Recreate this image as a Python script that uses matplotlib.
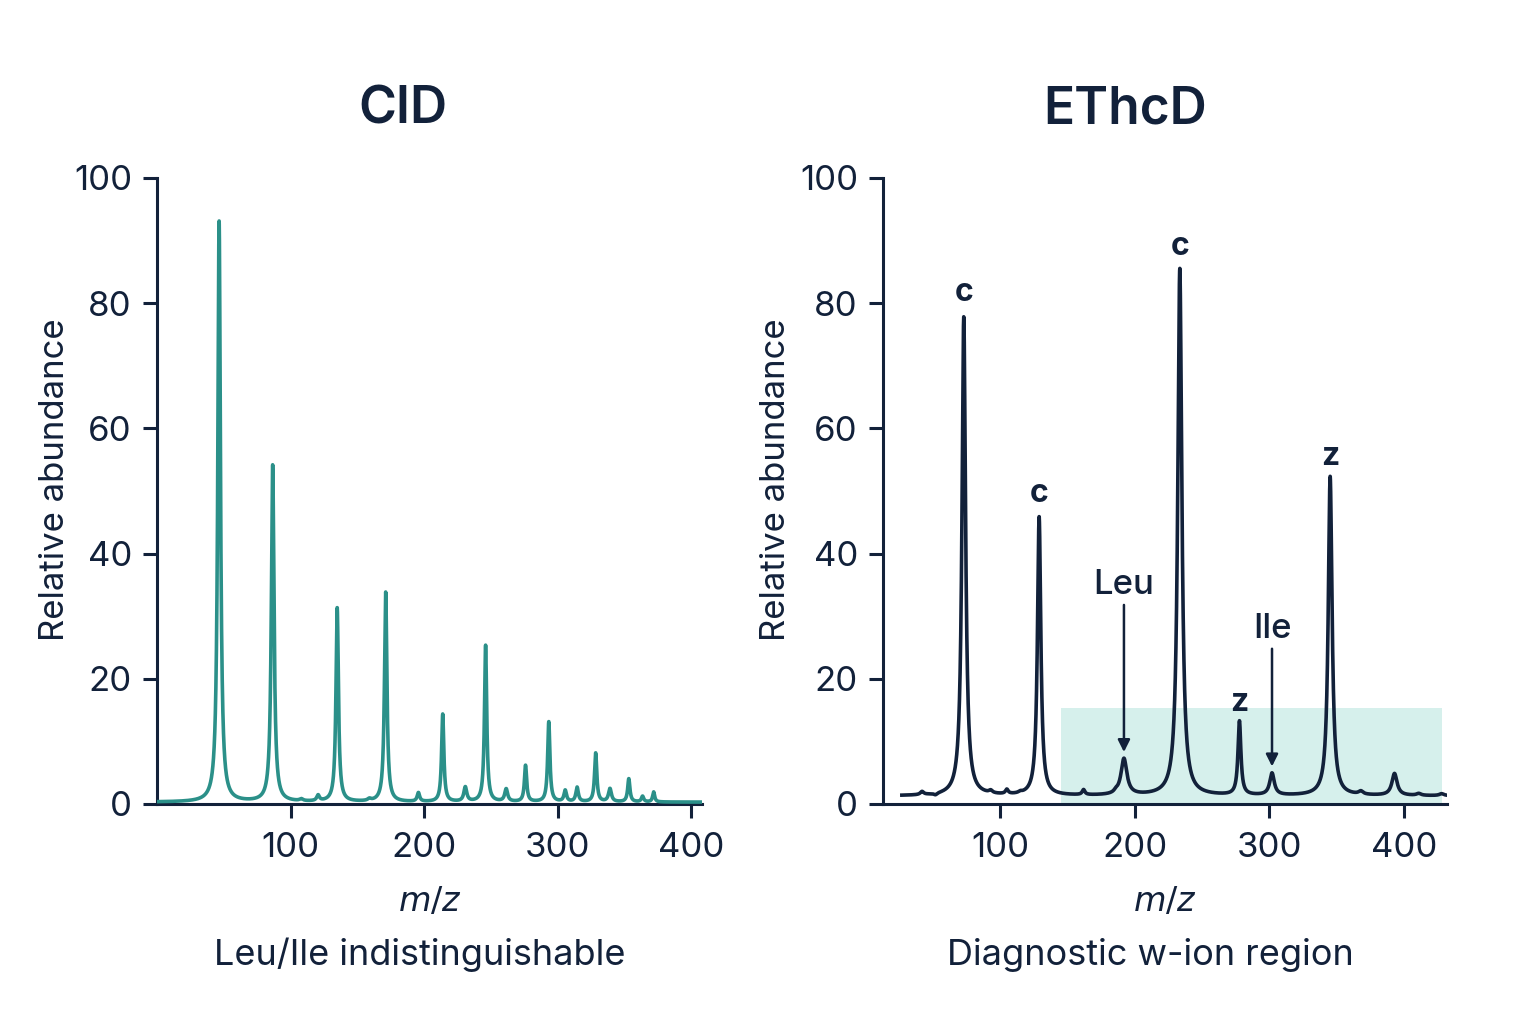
import numpy as np
import matplotlib
matplotlib.use("Agg")
import matplotlib.pyplot as plt
from matplotlib.patches import Rectangle

plt.rcParams['font.family'] = ['Inter', 'DejaVu Sans']

# ---------------- data ----------------
# CID spectrum: peak list (m/z, relative abundance, half width)
cid_mz = [46.5, 86.6, 108.0, 120.6, 134.9, 159.0, 171.2, 195.7, 213.9, 230.8, 246.0, 261.4,
          275.9, 293.3, 305.6, 314.5, 328.4, 339.1, 353.2, 363.5, 371.8]
cid_int = [92.8, 53.8, 0.3, 0.9, 31.0, 0.3, 33.5, 1.4, 14.0, 2.3, 25.0, 2.0,
           5.8, 12.8, 1.8, 2.3, 7.8, 2.1, 3.7, 0.9, 1.6]
cid_hw = [1.2, 1.2, 1.5, 1.2, 1.1, 1.5, 1.1, 1.1, 1.0, 1.3, 1.0, 1.3,
          1.0, 1.0, 1.1, 1.1, 1.0, 1.3, 1.0, 1.0, 0.9]
cid_baseline = 0.3
cid_range = [0, 408]

# EThcD spectrum: peak list (m/z, relative abundance, half width)
eth_mz = [42, 52, 93, 105, 115, 162, 186, 73.0, 129.0, 192.0, 233.5, 277.8, 302.0,
          345.2, 393.0, 368, 411, 428]
eth_int = [0.5, -0.3, 0.4, 0.7, 0.2, 0.8, 0.3, 76.5, 44.5, 5.8, 84.2, 11.8, 3.5,
           51.0, 3.5, 0.5, 0.3, 0.3]
eth_hw = [1.5, 1.5, 1.5, 1.2, 1.5, 1.2, 1.5, 1.6, 1.5, 2.6, 1.8, 1.3, 2.0,
          1.7, 2.3, 2.0, 2.0, 2.0]
eth_baseline = 1.3
eth_range = [27, 432]

# annotations
ion_labels = ['c', 'c', 'c', 'z', 'z']
ion_mz = [73.0, 129.0, 233.5, 277.8, 345.2]
ion_y = [79.3, 47.1, 86.6, 13.8, 53.1]
diag_labels = ['Leu', 'Ile']
diag_mz = [192.0, 302.0]
diag_text_y = [32.4, 25.4]
diag_arrow_top = [31.8, 24.8]
diag_arrow_tip = [8.3, 6.0]
region_mz = [145.5, 428.0]
region_top = 15.3

xticks = [100, 200, 300, 400]
yticks = [0, 20, 40, 60, 80, 100]

# ---------------- styling ----------------
NAVY = '#12213a'
TEAL = '#2b9089'
SHADE = '#d6f0ec'


def spectrum(x, mz, inten, hw, base):
    y = np.full_like(x, base)
    for m, h, w in zip(mz, inten, hw):
        y += h / (1.0 + ((x - m) / w) ** 2)
    return y


fig = plt.figure(figsize=(15.36, 10.24), dpi=100)
W, H = 1536, 1024
ax1 = fig.add_axes([157 / W, 1 - 804 / H, 545 / W, 626 / H])
ax2 = fig.add_axes([883 / W, 1 - 804 / H, 564 / W, 626 / H])

x1 = np.linspace(cid_range[0], cid_range[1], 6000)
ax1.plot(x1, spectrum(x1, cid_mz, cid_int, cid_hw, cid_baseline), color=TEAL, lw=2.6, zorder=3)
ax1.set_xlim(0, 408)

x2 = np.linspace(eth_range[0], eth_range[1], 6000)
ax2.add_patch(Rectangle((region_mz[0], 0), region_mz[1] - region_mz[0], region_top,
                        facecolor=SHADE, edgecolor='none', zorder=1))
ax2.plot(x2, spectrum(x2, eth_mz, eth_int, eth_hw, eth_baseline), color=NAVY, lw=2.6, zorder=3)
ax2.set_xlim(13, 432)

for lab, m, y in zip(ion_labels, ion_mz, ion_y):
    ax2.text(m, y, lab, ha='center', va='bottom', fontsize=23, fontweight='bold', color=NAVY)
for lab, m, ty, at, tip in zip(diag_labels, diag_mz, diag_text_y, diag_arrow_top, diag_arrow_tip):
    ax2.text(m, ty, lab, ha='center', va='bottom', fontsize=25, color=NAVY, fontweight='medium')
    ax2.annotate('', xy=(m, tip), xytext=(m, at),
                 arrowprops=dict(arrowstyle='-|>', color=NAVY, lw=1.8,
                                 mutation_scale=18, shrinkA=0, shrinkB=0))

for ax, lx in ((ax1, -0.158), (ax2, -0.161)):
    ax.set_ylim(0, 100)
    ax.set_xticks(xticks)
    ax.set_yticks(yticks)
    for s in ('top', 'right'):
        ax.spines[s].set_visible(False)
    for s in ('left', 'bottom'):
        ax.spines[s].set_color(NAVY)
        ax.spines[s].set_linewidth(2.2)
    ax.tick_params(axis='both', colors=NAVY, labelcolor=NAVY, labelsize=25,
                   length=10, width=2.2, direction='out')
    ax.tick_params(axis='x', pad=10)
    ax.tick_params(axis='y', pad=8)
    ax.set_ylabel('Relative abundance', fontsize=25, color=NAVY)
    ax.yaxis.set_label_coords(lx, 0.518)
    ax.set_xlabel('$m/z$', fontsize=24, color=NAVY, labelpad=16)
    ax.patch.set_alpha(0)

fig.text(403 / W, 1 - 110 / H, 'CID', ha='center', va='center', fontsize=37,
         fontweight='semibold', color=NAVY)
fig.text(1125 / W, 1 - 110 / H, 'EThcD', ha='center', va='center', fontsize=37,
         fontweight='semibold', color=NAVY)
fig.text(420 / W, 1 - 955 / H, 'Leu/Ile indistinguishable', ha='center', va='center',
         fontsize=26, color=NAVY)
fig.text(1150 / W, 1 - 955 / H, 'Diagnostic w-ion region', ha='center', va='center',
         fontsize=26, color=NAVY)

fig.savefig('out.png', dpi=100, facecolor='white')
